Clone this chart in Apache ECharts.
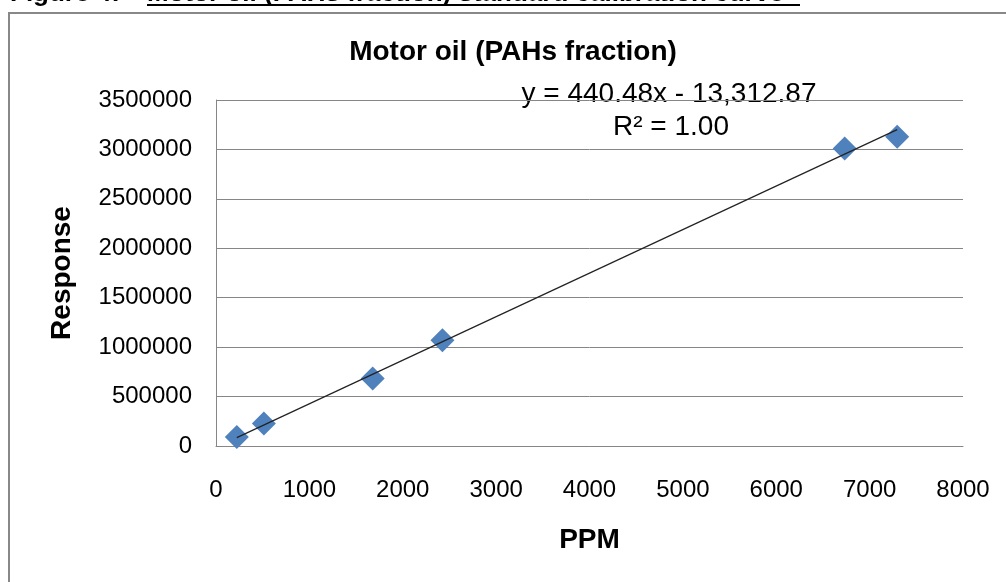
<!DOCTYPE html>
<html>
<head>
<meta charset="utf-8">
<script src="https://cdn.jsdelivr.net/npm/echarts@6/dist/echarts.min.js"></script>
<style>
  html, body { margin: 0; padding: 0; background: #fff; }
  #chart { width: 1006px; height: 582px; }
</style>
</head>
<body>
<div id="chart"></div>
<script>
// ---- data ----
const ppmValues = [223, 513, 1678, 2425, 6733, 7295];
const responseValues = [91000, 226700, 682000, 1070000, 3010000, 3127000];
const xAxisMin = 0, xAxisMax = 8000, xAxisStep = 1000;
const yAxisMin = 0, yAxisMax = 3500000, yAxisStep = 500000;
const trendSlope = 440.48;
const trendIntercept = -13312.87;
const chartTitle = 'Motor oil (PAHs fraction)';
const figureLabel = 'Figure 4:';
const figureCaption = 'Motor oil (PAHs fraction) standard calibration curve';
const equationText = 'y = 440.48x - 13,312.87';
const r2Text = 'R\u00b2 = 1.00';
const xAxisName = 'PPM';
const yAxisName = 'Response';

const points = ppmValues.map((x, i) => [x, responseValues[i]]);
const xLo = Math.min(...ppmValues), xHi = Math.max(...ppmValues);
const trend = [[xLo, trendSlope * xLo + trendIntercept], [xHi, trendSlope * xHi + trendIntercept]];

const FONT = '"Liberation Sans", Arial, sans-serif';
const plain = v => String(v);
const chart = echarts.init(document.getElementById('chart'), null, { renderer: 'canvas' });
chart.setOption({
  animation: false,
  backgroundColor: '#fff',
  grid: { left: 216, right: 43, top: 100, bottom: 136, containLabel: false },
  xAxis: {
    type: 'value', min: xAxisMin, max: xAxisMax, interval: xAxisStep,
    name: xAxisName, nameLocation: 'middle', nameGap: 80,
    nameTextStyle: { fontFamily: FONT, fontSize: 28, fontWeight: 'bold', color: '#000' },
    axisLine: { show: true, lineStyle: { color: '#868686', width: 1 } },
    axisTick: { show: false },
    splitLine: { show: false },
    axisLabel: { fontFamily: FONT, fontSize: 24, color: '#000', margin: 32, formatter: plain }
  },
  yAxis: {
    type: 'value', min: yAxisMin, max: yAxisMax, interval: yAxisStep,
    name: yAxisName, nameLocation: 'middle', nameGap: 140,
    nameTextStyle: { fontFamily: FONT, fontSize: 28, fontWeight: 'bold', color: '#000' },
    axisLine: { show: true, lineStyle: { color: '#868686', width: 1 } },
    axisTick: { show: false },
    splitLine: { show: true, lineStyle: { color: '#868686', width: 1 } },
    axisLabel: { fontFamily: FONT, fontSize: 24, color: '#000', margin: 24, formatter: plain }
  },
  series: [
    {
      type: 'line', data: trend, symbol: 'none', silent: true,
      lineStyle: { color: '#222', width: 1.2 }, z: 3
    },
    {
      type: 'scatter', data: points, symbol: 'diamond', symbolSize: 24,
      itemStyle: { color: '#4F81BD', opacity: 1 }, z: 2
    }
  ],
  graphic: [
    { type: 'rect', shape: { x: 9, y: 13, width: 1200, height: 800 },
      style: { fill: 'none', stroke: '#888', lineWidth: 2 }, silent: true, z: -1 },
    { type: 'text', x: 10, y: -6,
      style: { text: figureLabel, font: 'bold 26px ' + FONT, fill: '#000', verticalAlign: 'middle', align: 'left' } },
    { type: 'text', x: 147, y: -6,
      style: { text: figureCaption, font: 'bold 26px ' + FONT, fill: '#000', verticalAlign: 'middle', align: 'left' } },
    { type: 'line', shape: { x1: 147, y1: 5, x2: 800, y2: 5 }, style: { stroke: '#000', lineWidth: 2 } },
    { type: 'text', x: 513, y: 52.5,
      style: { text: chartTitle, font: 'bold 28px ' + FONT, fill: '#000', verticalAlign: 'middle', align: 'center' } },
    { type: 'text', x: 669, y: 94,
      style: { text: equationText, font: '28px ' + FONT, fill: '#000', verticalAlign: 'middle', align: 'center' } },
    { type: 'text', x: 671, y: 127,
      style: { text: r2Text, font: '28px ' + FONT, fill: '#000', verticalAlign: 'middle', align: 'center' } }
  ]
});
</script>
</body>
</html>
